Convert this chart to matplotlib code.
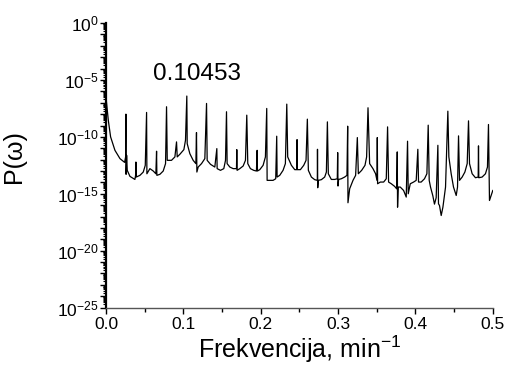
import numpy as np
import matplotlib
matplotlib.use("Agg")
import matplotlib.pyplot as plt
from matplotlib.ticker import FixedLocator, FuncFormatter, NullFormatter

plt.rcParams['font.family'] = ['Liberation Sans', 'DejaVu Sans']
plt.rcParams['mathtext.fontset'] = 'custom'
plt.rcParams['mathtext.rm'] = 'Liberation Sans'
plt.rcParams['mathtext.it'] = 'Liberation Sans:italic'
plt.rcParams['mathtext.default'] = 'regular'

# Traced spectrum: frequency (min^-1) and log10 of power
freq = [0.0004, 0.0030, 0.0060, 0.0116, 0.0181, 0.0241,
        0.0254, 0.0258, 0.0260, 0.0267, 0.0275,
        0.0310, 0.0374, 0.0383, 0.0387, 0.0391,
        0.0439, 0.0482, 0.0508, 0.0525, 0.0529,
        0.0568, 0.0611, 0.0645, 0.0654, 0.0658,
        0.0697, 0.0740, 0.0770, 0.0783, 0.0792,
        0.0847, 0.0891, 0.0912, 0.0921,
        0.0955, 0.1007, 0.1028, 0.1045, 0.1050,
        0.1084, 0.1127, 0.1162, 0.1170, 0.1175,
        0.1192, 0.1235, 0.1278, 0.1300, 0.1308,
        0.1351, 0.1407, 0.1433, 0.1437,
        0.1480, 0.1523, 0.1545, 0.1558, 0.1566,
        0.1601, 0.1644, 0.1687, 0.1691, 0.1695,
        0.1730, 0.1773, 0.1803, 0.1820, 0.1833,
        0.1867, 0.1910, 0.1945, 0.1954, 0.1958,
        0.1988, 0.2031, 0.2061, 0.2078, 0.2083,
        0.2117, 0.2160, 0.2194, 0.2207, 0.2212,
        0.2246, 0.2289, 0.2319, 0.2337, 0.2349,
        0.2397, 0.2440, 0.2466, 0.2470, 0.2474,
        0.2513, 0.2556, 0.2586, 0.2603, 0.2616,
        0.2655, 0.2698, 0.2732, 0.2734, 0.2737, 0.2745,
        0.2784, 0.2827, 0.2849, 0.2862, 0.2874,
        0.2913, 0.2956, 0.2990, 0.2995, 0.2999, 0.3007,
        0.3042, 0.3085, 0.3115, 0.3124, 0.3128,
        0.3150, 0.3193, 0.3227, 0.3249, 0.3262,
        0.3305, 0.3348, 0.3369, 0.3387, 0.3408,
        0.3451, 0.3485, 0.3503, 0.3507, 0.3511,
        0.3546, 0.3589, 0.3623, 0.3640, 0.3653,
        0.3688, 0.3731, 0.3757, 0.3765, 0.3769, 0.3778,
        0.3804, 0.3847, 0.3881, 0.3898, 0.3907,
        0.3933, 0.3976, 0.4010, 0.4031, 0.4040,
        0.4074, 0.4117, 0.4148, 0.4165, 0.4178,
        0.4195, 0.4225, 0.4246, 0.4268, 0.4290, 0.4298,
        0.4311, 0.4333, 0.4355, 0.4389, 0.4419, 0.4432,
        0.4462, 0.4492, 0.4527, 0.4544, 0.4557, 0.4570,
        0.4604, 0.4639, 0.4669, 0.4686, 0.4699,
        0.4733, 0.4776, 0.4811, 0.4815, 0.4819,
        0.4862, 0.4905, 0.4931, 0.4944, 0.4957, 0.5000]
logp = [-6.76, -8.53, -10.0, -11.18, -11.91, -12.24,
        -11.76, -8.00, -13.29, -11.62, -12.94,
        -13.47, -13.74, -13.38, -12.21, -13.53,
        -13.38, -13.09, -12.50, -7.85, -13.24,
        -12.79, -13.00, -13.24, -11.26, -13.38,
        -13.29, -13.00, -12.35, -7.35, -12.06,
        -12.06, -11.76, -10.44, -11.76,
        -11.53, -11.12, -10.29, -6.41, -10.59,
        -11.47, -12.06, -12.35, -9.62, -13.09,
        -12.65, -12.35, -11.91, -7.06, -12.06,
        -12.41, -12.65, -11.03, -12.79,
        -12.94, -12.79, -12.06, -7.79, -12.35,
        -12.65, -12.79, -12.79, -11.12, -12.94,
        -12.79, -12.56, -12.06, -8.09, -12.35,
        -12.79, -12.94, -13.00, -11.18, -13.00,
        -12.88, -12.50, -11.76, -7.50, -13.82,
        -13.82, -13.82, -13.68, -9.94, -13.53,
        -13.38, -12.94, -12.35, -7.12, -11.76,
        -12.50, -12.88, -12.88, -10.24, -12.88,
        -12.88, -12.50, -12.06, -8.44, -12.94,
        -13.53, -13.76, -13.82, -11.09, -14.47, -13.82,
        -13.76, -13.53, -13.09, -8.68, -13.24,
        -13.74, -13.74, -13.68, -11.38, -14.32, -13.74,
        -13.68, -13.53, -13.38, -9.06, -15.79,
        -14.56, -13.82, -13.38, -10.06, -13.24,
        -12.94, -12.50, -11.76, -7.44, -12.35,
        -12.79, -13.24, -13.82, -10.06, -14.12,
        -13.97, -13.97, -13.68, -9.12, -13.97,
        -14.12, -14.35, -14.56, -11.32, -16.18, -14.41,
        -14.41, -14.71, -15.29, -10.38, -15.00,
        -14.12, -13.97, -13.82, -11.09, -13.97,
        -13.97, -13.68, -13.24, -8.97, -13.82,
        -14.41, -15.18, -15.91, -15.35, -10.74, -15.88,
        -16.03, -16.91, -16.18, -14.41, -7.74, -11.76,
        -13.24, -14.41, -15.15, -14.41, -9.91, -13.82,
        -13.53, -13.09, -12.35, -8.59, -12.35,
        -13.24, -13.59, -13.53, -10.79, -13.59,
        -13.53, -13.24, -12.65, -8.91, -15.59, -14.71]

xticks = [0.0, 0.1, 0.2, 0.3, 0.4, 0.5]
ydecades = [0, -5, -10, -15, -20, -25]
peak_label = "0.10453"

fig = plt.figure(figsize=(5.07, 3.67), dpi=100)
ax = fig.add_axes([0.209, 0.162, 0.763, 0.775])

power = [10.0 ** v for v in logp]
ax.plot(freq, power, color='black', lw=0.9)

ax.set_yscale('log')
ax.set_xlim(0, 0.5)
ax.set_ylim(1e-25, 1e0)

ax.xaxis.set_major_locator(FixedLocator(xticks))
ax.xaxis.set_minor_locator(FixedLocator([0.05, 0.15, 0.25, 0.35, 0.45]))
ax.xaxis.set_major_formatter(FuncFormatter(lambda v, p: f"{v:.1f}"))

major_y = [10.0 ** e for e in range(-25, 1)]
minor_y = [m * 10.0 ** e for e in range(-25, 0) for m in range(2, 10)]
ax.yaxis.set_major_locator(FixedLocator(major_y))
ax.yaxis.set_minor_locator(FixedLocator(minor_y))
ax.yaxis.set_minor_formatter(NullFormatter())

def yfmt(v, p):
    e = int(round(np.log10(v)))
    if e in ydecades:
        return r"$10^{%d}$" % e
    return ""
ax.yaxis.set_major_formatter(FuncFormatter(yfmt))

for s in ['top', 'right']:
    ax.spines[s].set_visible(False)
ax.spines['left'].set_linewidth(1.6)
ax.spines['bottom'].set_linewidth(1.0)
ax.spines['bottom'].set_color('#555555')

ax.tick_params(axis='x', which='major', direction='out', length=4, width=1, labelsize=12.5, pad=3)
ax.tick_params(axis='x', which='minor', direction='out', length=3, width=1)
ax.tick_params(axis='y', which='major', direction='out', length=4, width=1, labelsize=12.5, pad=1)
ax.tick_params(axis='y', which='minor', direction='out', length=2, width=0.8)

ax.set_xlabel(r"Frekvencija, min$^{-1}$", fontsize=18, labelpad=1)
ax.set_ylabel("P(ω)", fontsize=18)
ax.yaxis.set_label_coords(-0.207, 0.53)

ax.text(0.1176, 10 ** -4.49, peak_label, fontsize=17.5, ha='center', va='center')

fig.savefig("out.png", dpi=100)
